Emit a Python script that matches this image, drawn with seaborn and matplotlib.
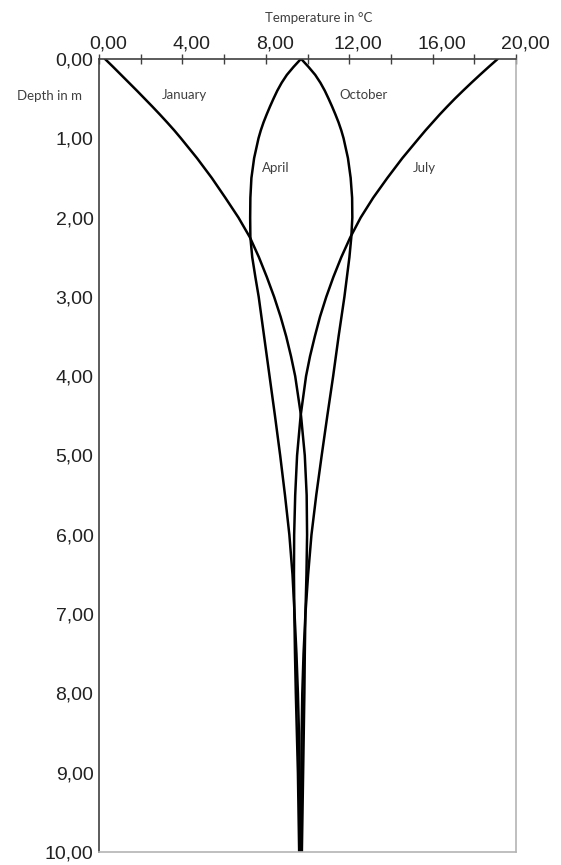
import matplotlib
matplotlib.use("Agg")
import matplotlib.pyplot as plt
import matplotlib.transforms as mtransforms
import pandas as pd
import seaborn as sns

# ---- data ----
depth = [0, 0.1, 0.2, 0.3, 0.4, 0.5, 0.6, 0.7, 0.8, 0.9, 1.0,
         1.25, 1.5, 1.75, 2.0, 2.25, 2.5, 2.75, 3.0, 3.25, 3.5, 3.75, 4.0,
         4.5, 5.0, 5.5, 6.0, 6.5, 7.0, 7.5, 8.0, 8.5, 9.0, 9.5, 10.0]
january = [0.29, 0.68, 1.06, 1.44, 1.82, 2.19, 2.56, 2.92, 3.27, 3.61, 3.93,
           4.70, 5.41, 6.06, 6.69, 7.24, 7.67, 8.05, 8.40, 8.71, 8.98, 9.21, 9.41,
           9.69, 9.87, 9.96, 9.98, 9.95, 9.90, 9.87, 9.85, 9.82, 9.79, 9.76, 9.73]
april = [9.68, 9.33, 9.01, 8.76, 8.55, 8.37, 8.20, 8.04, 7.89, 7.76, 7.65,
         7.44, 7.31, 7.26, 7.25, 7.26, 7.35, 7.50, 7.66, 7.79, 7.92, 8.05, 8.18,
         8.44, 8.69, 8.92, 9.13, 9.28, 9.38, 9.47, 9.54, 9.59, 9.62, 9.64, 9.66]
july = [19.12, 18.69, 18.27, 17.86, 17.46, 17.07, 16.70, 16.34, 16.00, 15.66, 15.34,
        14.55, 13.83, 13.15, 12.55, 12.05, 11.62, 11.24, 10.90, 10.60, 10.35, 10.12, 9.93,
        9.67, 9.50, 9.41, 9.36, 9.35, 9.37, 9.40, 9.44, 9.49, 9.54, 9.57, 9.60]
october = [9.70, 10.05, 10.37, 10.62, 10.83, 11.01, 11.18, 11.34, 11.49, 11.62, 11.73,
           11.94, 12.07, 12.14, 12.15, 12.10, 12.01, 11.89, 11.77, 11.63, 11.49, 11.36, 11.23,
           10.95, 10.68, 10.42, 10.19, 10.03, 9.90, 9.81, 9.75, 9.72, 9.71, 9.70, 9.70]
months = ["January", "April", "July", "October"]
x_ticks = [0, 2, 4, 6, 8, 10, 12, 14, 16, 18, 20]
y_ticks = [0, 1, 2, 3, 4, 5, 6, 7, 8, 9, 10]

frames = []
for name, vals in zip(months, [january, april, july, october]):
    frames.append(pd.DataFrame({"depth": depth, "temp": vals, "month": name}))
df = pd.concat(frames, ignore_index=True)

sns.set_style("white")
plt.rcParams["font.family"] = ["Liberation Sans", "DejaVu Sans"]

fig = plt.figure(figsize=(5.61, 8.65), dpi=100)
ax = fig.add_axes([99 / 561, 1 - 852 / 865, (516 - 99) / 561, (852 - 59) / 865])

sns.lineplot(data=df, x="temp", y="depth", hue="month", palette=["black"] * 4,
             orient="y", estimator=None, sort=False, legend=False, linewidth=1.8, ax=ax)

ax.set_xlim(0, 20)
ax.set_ylim(10, 0)
ax.xaxis.tick_top()
ax.set_xticks(x_ticks)
ax.set_xticklabels([("%.2f" % v).replace(".", ",") if v % 4 == 0 else "" for v in x_ticks])
ax.set_yticks(y_ticks)
ax.set_yticklabels([("%.2f" % v).replace(".", ",") for v in y_ticks])
ax.set_xlabel("")
ax.set_ylabel("")

ax.tick_params(axis="x", direction="inout", length=7, width=1, color="#404040",
               labelsize=14, pad=1, labelcolor="#222222", top=True, bottom=False)
ax.tick_params(axis="y", direction="out", length=4, width=1, color="#404040",
               labelsize=14, pad=0, labelcolor="#222222")

offset = mtransforms.ScaledTranslation(9 / 100, 0, fig.dpi_scale_trans)
for lab in ax.get_xticklabels():
    lab.set_transform(lab.get_transform() + offset)

for side in ["left", "top"]:
    ax.spines[side].set_color("#404040")
    ax.spines[side].set_linewidth(1.2)
for side in ["right", "bottom"]:
    ax.spines[side].set_color("#b4b4b4")
    ax.spines[side].set_linewidth(1.2)

lab_kw = dict(family=["Lato", "DejaVu Sans"], fontsize=9.5, color="#404040",
              ha="center", va="center")
ax.text(4.08, 0.46, "January", **lab_kw)
ax.text(12.69, 0.46, "October", **lab_kw)
ax.text(8.48, 1.38, "April", **lab_kw)
ax.text(15.61, 1.37, "July", **lab_kw)
fig.text(49.5 / 561, 1 - 96 / 865, "Depth in m", **lab_kw)
fig.text(319 / 561, 1 - 18 / 865, "Temperature in °C", **lab_kw)

fig.savefig("out.png", dpi=100)
